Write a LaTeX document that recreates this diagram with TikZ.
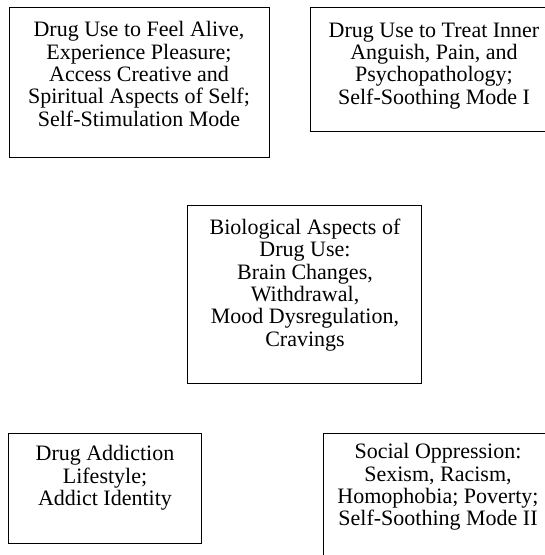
\documentclass[tikz,border=0pt]{standalone}
\usepackage{fontspec}
\setmainfont{Liberation Serif}
\begin{document}
\begin{tikzpicture}[x=1pt,y=1pt,
  frame/.style={draw=black,line width=1pt},
  txt/.style={align=center,inner sep=0pt,font=\fontsize{22}{22.3}\selectfont}]
\useasboundingbox (0,0) rectangle (545,-555);
\draw[frame] (9,-7) rectangle (269,-157);
\node[txt] (t1) at (139,-74) {Drug Use to Feel Alive,\\Experience Pleasure;\\Access Creative and\\Spiritual Aspects of Self;\\Self-Stimulation Mode};
\draw[frame] (310,-7) rectangle (558,-131);
\node[txt] (t2) at (434,-66) {Drug Use to Treat Inner\\Anguish, Pain, and\\Psychopathology;\\Self-Soothing Mode I};
\draw[frame] (187,-205) rectangle (421,-383);
\node[txt] (t3) at (305,-285) {Biological Aspects of\\Drug Use:\\Brain Changes,\\Withdrawal,\\Mood Dysregulation,\\Cravings};
\draw[frame] (8.5,-433) rectangle (201,-543);
\node[txt] (t4) at (105,-478) {Drug Addiction\\Lifestyle;\\Addict Identity};
\draw[frame] (323,-433) rectangle (553,-575);
\node[txt] (t5) at (438,-487) {Social Oppression:\\Sexism, Racism,\\Homophobia; Poverty;\\Self-Soothing Mode II};
\end{tikzpicture}
\end{document}
